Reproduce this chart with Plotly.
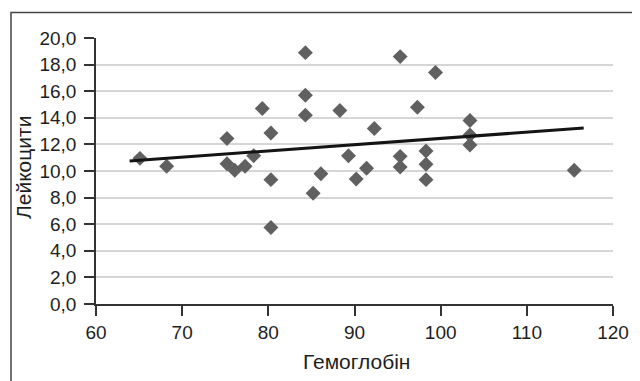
import plotly.graph_objects as go

hemoglobin = [65.1, 68.2, 75.2, 75.2, 76.1, 77.3, 78.3, 79.3, 80.3, 80.3, 80.3,
              84.3, 84.3, 84.3, 85.2, 86.1, 88.3, 89.3, 90.2, 91.4, 92.3,
              95.3, 95.3, 95.3, 97.3, 98.3, 98.3, 98.3, 99.4,
              103.4, 103.4, 103.4, 115.5]
leukocytes = [10.95, 10.35, 12.45, 10.55, 10.05, 10.35, 11.15, 14.7, 12.85, 9.35, 5.75,
              18.9, 15.7, 14.2, 8.33, 9.8, 14.55, 11.15, 9.4, 10.2, 13.2,
              18.6, 11.1, 10.3, 14.8, 11.5, 10.5, 9.35, 17.4,
              13.8, 12.7, 11.95, 10.05]

trend_x = [63.9, 116.6]
trend_y = [10.76, 13.23]

x_ticks = [60, 70, 80, 90, 100, 110, 120]
y_ticks = [0, 2, 4, 6, 8, 10, 12, 14, 16, 18, 20]

x_title = "Гемоглобін"
y_title = "Лейкоцити"

FONT = "Liberation Sans, Arial, sans-serif"
TXT = "#1e1e1e"

# page body has an 8px default margin; work in page pixels and shift
OFF = 8
W, H = 640 - OFF, 381 - OFF
pl, pr, pt, pb = 96, 613, 37.5, 304.5   # plot area in page pixels
L, R, T, B = pl - OFF, W - (pr - OFF), pt - OFF, H - (pb - OFF)
pw, ph = W - L - R, H - T - B

def px_x(p):
    return (p - pl) / pw

def px_y(p):
    return (pb - p) / ph

fig = go.Figure()
fig.add_trace(go.Scatter(
    x=hemoglobin, y=leukocytes, mode="markers",
    marker=dict(symbol="diamond", size=11.5, color="#606060", line=dict(width=0)),
    showlegend=False, hoverinfo="x+y"))
fig.add_trace(go.Scatter(
    x=trend_x, y=trend_y, mode="lines",
    line=dict(color="#141414", width=3),
    showlegend=False, hoverinfo="skip"))

fig.update_layout(
    width=W, height=H,
    margin=dict(l=L, r=R, t=T, b=B, pad=0),
    paper_bgcolor="white", plot_bgcolor="white",
    separators=", ",
    font=dict(family=FONT, size=19, color=TXT),
    xaxis=dict(
        range=[60, 120], tickvals=x_ticks, showgrid=False, zeroline=False,
        showline=True, linecolor="#333333", linewidth=1.5,
        ticks="outside", ticklen=10, tickwidth=1.5, tickcolor="#333333",
        tickfont=dict(size=19, family=FONT, color=TXT),
        automargin=False, fixedrange=True),
    yaxis=dict(
        range=[0, 20], tickvals=y_ticks, tickformat=".1f",
        showgrid=True, gridcolor="#d6d6d6", gridwidth=1.5, zeroline=False,
        showline=True, linecolor="#333333", linewidth=1.5,
        ticks="outside", ticklen=10, tickwidth=1.5, tickcolor="#333333",
        ticklabelstandoff=4,
        tickfont=dict(size=19, family=FONT, color=TXT),
        automargin=False, fixedrange=True),
    shapes=[dict(type="rect", xref="paper", yref="paper",
                 x0=px_x(11), x1=px_x(636.5), y0=px_y(400), y1=px_y(12),
                 line=dict(color="#444444", width=1.5), layer="below")],
    annotations=[
        dict(text=x_title, xref="paper", yref="paper", x=px_x(356), y=px_y(362),
             xanchor="center", yanchor="middle", showarrow=False,
             font=dict(size=21, family=FONT, color=TXT)),
        dict(text=y_title, xref="paper", yref="paper", x=px_x(23), y=px_y(168),
             xanchor="center", yanchor="middle", showarrow=False, textangle=-90,
             font=dict(size=21, family=FONT, color=TXT)),
    ],
)

fig.write_html("out.html")
